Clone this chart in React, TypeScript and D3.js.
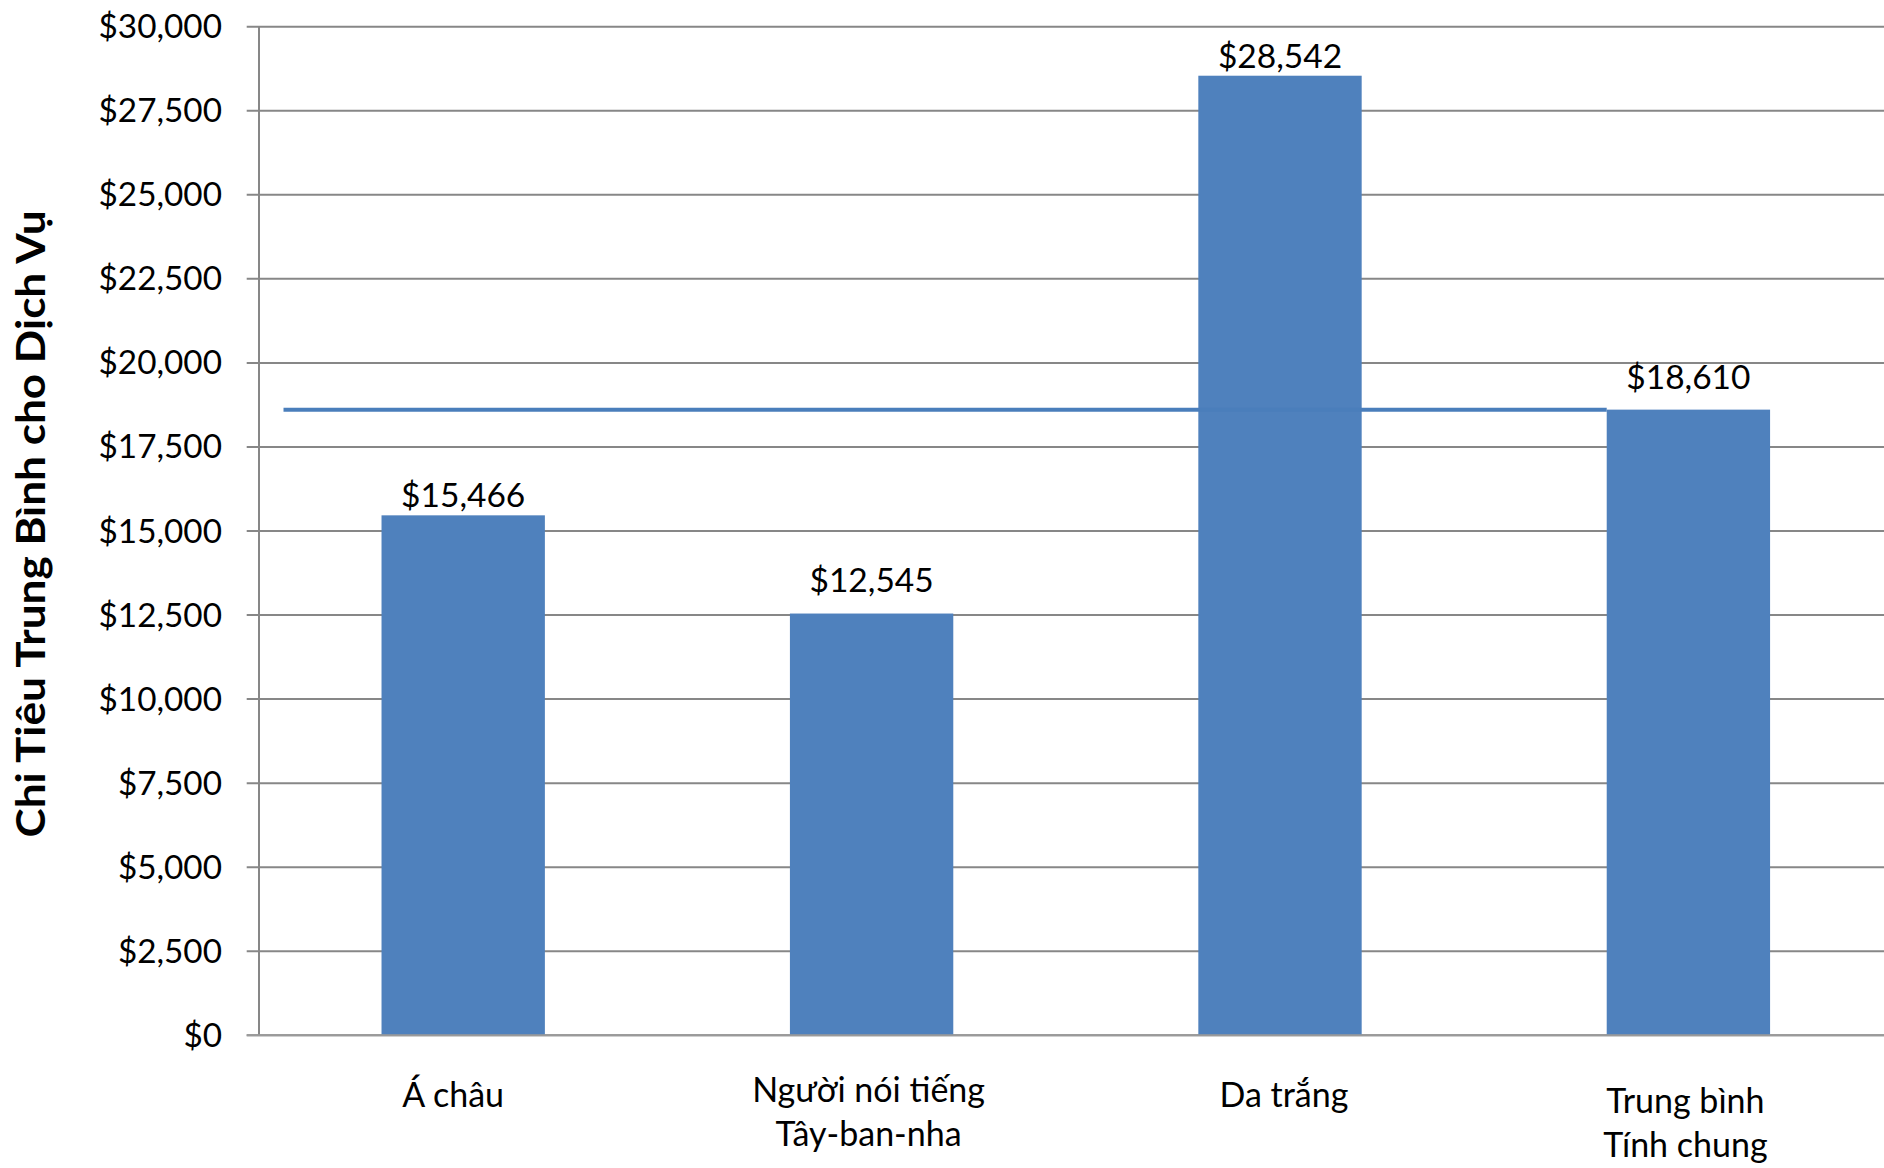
import React from "react";
import * as d3 from "d3";

const categories: string[][] = [
  ["Á châu"],
  ["Người nói tiếng", "Tây-ban-nha"],
  ["Da trắng"],
  ["Trung bình", "Tính chung"],
];
const categoryKeys = ["asian", "hispanic", "white", "overall"];
const values = [15466, 12545, 28542, 18610];
const averageValue = 18610;
const yTicks = [0, 2500, 5000, 7500, 10000, 12500, 15000, 17500, 20000, 22500, 25000, 27500, 30000];
const yTitle = "Chi Tiêu Trung Bình cho Dịch Vụ";

// style-only offsets (label gap above bar, category label shifts)
const labelGap = [8, 22, 8, 21];
const catDy = [0, -5, 0, 6];
const catDx = [-10, -3, 4, -3];

const W = 1884;
const H = 1168;
const plotLeft = 259;
const plotTop = 26.7;
const plotBottom = 1035.3;
const step = 408.4;

export default function App() {
  const x = d3
    .scaleBand<string>()
    .domain(categoryKeys)
    .range([plotLeft, plotLeft + step * categoryKeys.length])
    .paddingInner(0.6)
    .paddingOuter(0.3);
  const y = d3.scaleLinear().domain([0, 30000]).range([plotBottom, plotTop]);
  const fmt = (v: number) => "$" + d3.format(",")(v);
  const font = "Lato, 'Open Sans', sans-serif";
  const grid = "#878787";
  const blue = "#4F81BD";
  const lineStart = x.range()[0] + x.step() * 0.06;
  const lineEnd = x(categoryKeys[3])!;

  return (
    <svg
      width={W}
      height={H}
      style={{ position: "absolute", left: 0, top: 0, background: "#fff" }}
      fontFamily={font}
    >
      <rect x={0} y={0} width={W} height={H} fill="#fff" />
      {/* gridlines + ticks */}
      {yTicks.map((t) => (
        <g key={t}>
          <line x1={246.7} x2={W} y1={y(t)} y2={y(t)} stroke={grid} strokeWidth={2} />
          <text
            x={222}
            y={y(t) + 11.5}
            textAnchor="end"
            fontSize={33.3}
            fill="#000"
          >
            {fmt(t)}
          </text>
        </g>
      ))}
      {/* y axis */}
      <line x1={plotLeft} x2={plotLeft} y1={plotTop} y2={plotBottom} stroke={grid} strokeWidth={2} />
      {/* bars */}
      {categoryKeys.map((k, i) => (
        <rect
          key={k}
          x={x(k)}
          y={y(values[i])}
          width={x.bandwidth()}
          height={plotBottom - y(values[i])}
          fill={blue}
        />
      ))}
      {/* x axis line over bars */}
      <line x1={246.7} x2={W} y1={plotBottom} y2={plotBottom} stroke="#9a9a9a" strokeWidth={2} />
      {/* average line */}
      <line
        x1={lineStart}
        x2={lineEnd}
        y1={y(averageValue)}
        y2={y(averageValue)}
        stroke="#4A7EBB"
        strokeWidth={4}
      />
      {/* data labels */}
      {categoryKeys.map((k, i) => (
        <text
          key={k}
          x={x(k)! + x.bandwidth() / 2}
          y={y(values[i]) - labelGap[i]}
          textAnchor="middle"
          fontSize={33.5}
          fill="#000"
        >
          {fmt(values[i])}
        </text>
      ))}
      {/* category labels */}
      {categoryKeys.map((k, i) => (
        <text
          key={k}
          x={x(k)! + x.bandwidth() / 2 + catDx[i]}
          y={1107 + catDy[i]}
          textAnchor="middle"
          fontSize={34}
          fill="#000"
        >
          {categories[i].map((ln, j) => (
            <tspan key={j} x={x(k)! + x.bandwidth() / 2 + catDx[i]} dy={j === 0 ? 0 : 44}>
              {ln}
            </tspan>
          ))}
        </text>
      ))}
      {/* y title */}
      <text
        transform={`translate(45, ${(plotTop + plotBottom) / 2 - 7}) rotate(-90)`}
        textAnchor="middle"
        fontSize={40}
        fontWeight="bold"
        fill="#000"
        textLength={627}
        lengthAdjust="spacingAndGlyphs"
      >
        {yTitle}
      </text>
    </svg>
  );
}
